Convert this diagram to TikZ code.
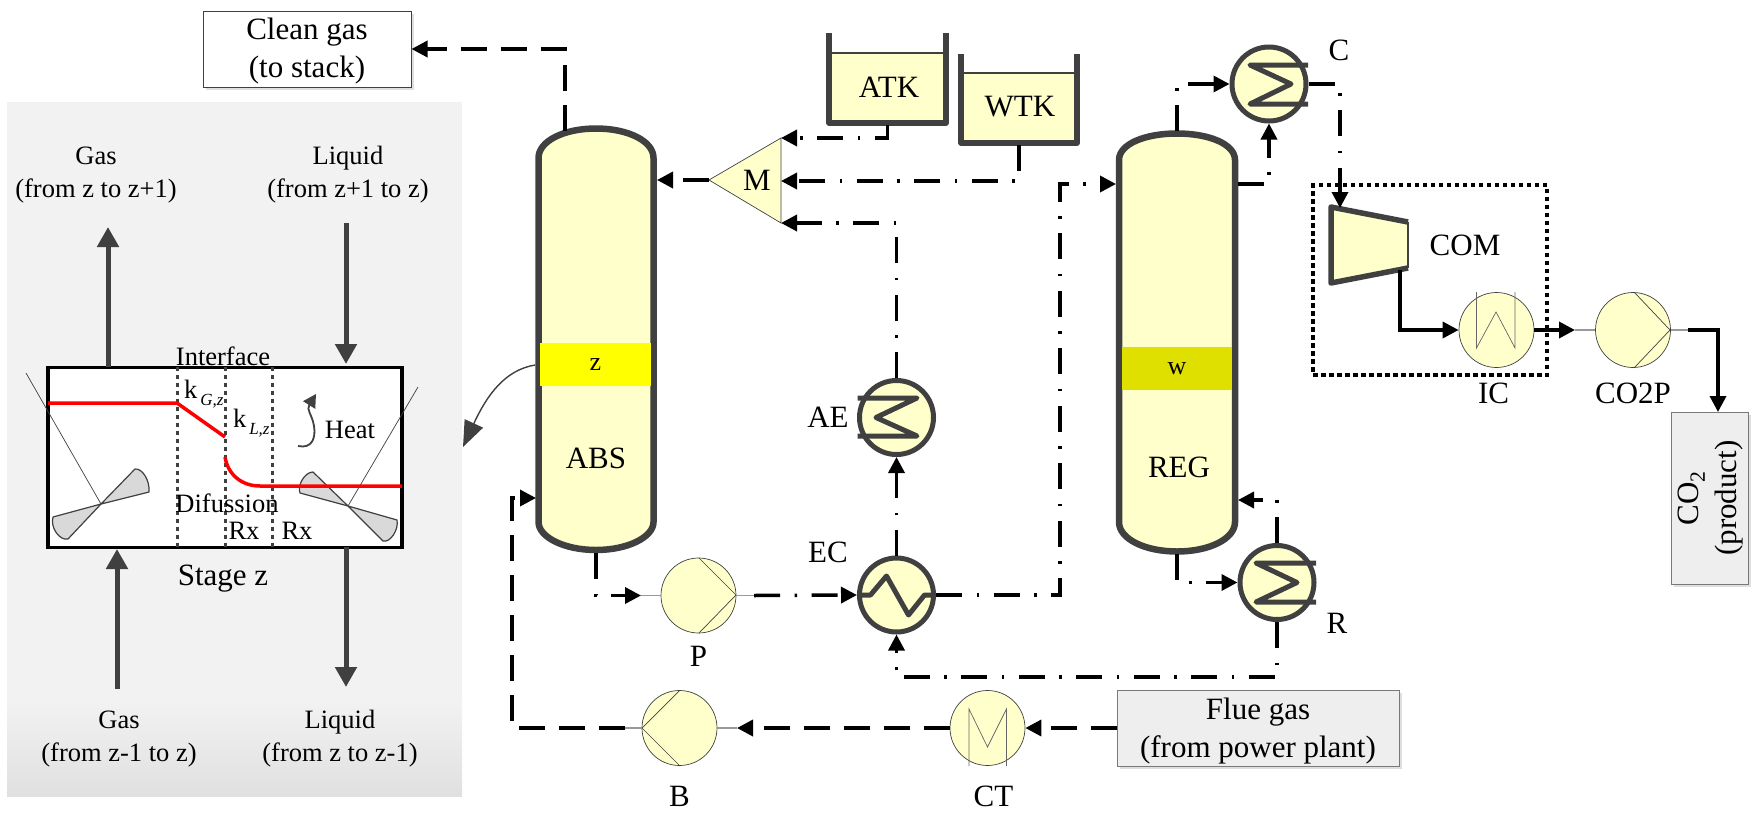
\documentclass[tikz,border=0pt]{standalone}
\usepackage{fontspec}
\setmainfont{Liberation Serif}
\usetikzlibrary{
  arrows.meta,
  positioning,
  calc,
  shadows
}
\definecolor{isPale}{HTML}{FFFFCC}
\definecolor{isDark}{HTML}{404040}
\definecolor{isBoxFill}{HTML}{EEEEEE}
\definecolor{isPanel}{HTML}{F2F2F2}
\definecolor{isPanelEnd}{HTML}{E0E0E0}
\definecolor{isBandZ}{HTML}{FFFF00}
\definecolor{isBandW}{HTML}{E0E000}
\definecolor{isBlade}{HTML}{D9D9D9}
\definecolor{isStub}{HTML}{999999}
\tikzset{
  tag/.style={font=\fontsize{31}{38}\selectfont, inner sep=0pt, align=center},
  paneltag/.style={font=\fontsize{26.5}{33}\selectfont, inner sep=0pt, align=center},
  vessel/.style={draw=isDark, line width=6.5pt, fill=isPale},
  band/.style={inner sep=0pt, minimum width=111pt, minimum height=43pt, font=\fontsize{26}{30}\selectfont},
  hxer/.style={circle, draw=isDark, line width=5pt, fill=isPale, minimum size=74pt, inner sep=0pt},
  pump/.style={circle, draw=isDark, line width=.7pt, fill=isPale, minimum size=75pt, inner sep=0pt},
  coil/.style={draw=isDark, line width=5pt, line join=round},
  thinline/.style={draw=isDark, line width=.7pt},
  stub/.style={draw=isStub, line width=1.5pt},
  tank/.style={draw=isDark, line width=5.5pt, line join=round},
  dashflow/.style={-{Triangle[length=16pt, width=16pt]}, line width=3.5pt, dash pattern=on 26pt off 14pt},
  dotflow/.style={-{Triangle[length=16pt, width=16pt]}, line width=3.5pt, dash pattern=on 26pt off 14.5pt on 2.5pt off 14.5pt},
  solidflow/.style={-{Triangle[length=16pt, width=16pt]}, line width=3.5pt},
  streamarrow/.style={-{Triangle[length=20pt, width=21pt]}, line width=5pt, draw=isDark},
  endbox/.style={draw=isDark!70, line width=1pt, fill=isBoxFill, inner sep=0pt, align=center,
    font=\fontsize{31}{38}\selectfont, drop shadow={shadow xshift=3pt, shadow yshift=-3pt, opacity=.25}},
  interface/.style={draw=isDark, line width=3pt, dash pattern=on 4pt off 4pt},
  redline/.style={draw=red, line width=3.5pt},
  blade/.style={draw=isDark, line width=1.2pt, fill=isBlade, line join=round}
}
\newcommand{\subtag}[1]{\raisebox{-7pt}{\fontsize{17}{17}\selectfont\itshape\,#1}}
\begin{document}
\begin{tikzpicture}[x=1pt, y=-1pt]
  \useasboundingbox (0,0) rectangle (1754,817);

  % stage panel
  \fill[isPanel] (7,102) rectangle (462,700);
  \shade[top color=isPanel, bottom color=isPanelEnd] (7,700) rectangle (462,796);
  \node[draw=black, line width=3.5pt, fill=white, minimum width=354pt, minimum height=180pt, inner sep=0pt] (Stage) at (225,457.5) {};
  \draw[thinline] (26,373) -- (101,504);
  \draw[thinline] (418,387) -- (348,506);
  \draw[blade] (101,504) -- (135,469) .. controls (142,468) and (150,480) .. (149,492) -- cycle;
  \draw[blade] (101,504) -- (68,539) .. controls (60,541) and (50,528) .. (53,517) -- cycle;
  \draw[blade] (348,506) -- (313,472) .. controls (305,472) and (297,485) .. (300,493) -- cycle;
  \draw[blade] (348,506) -- (383,541) .. controls (390,543) and (399,530) .. (397,520) -- cycle;
  \foreach \xpos in {177,225,272} {
    \draw[interface] (\xpos,367) -- (\xpos,547);
  }
  \draw[redline] (48,403) -- (177,403) -- (225,437);
  \draw[redline] (225,457) .. controls (228,475) and (242,486) .. (260,486) -- (402,486);
  \coordinate (HeatA) at (298,446);
  \coordinate (HeatB) at (316,394);
  \draw[-{Triangle[length=13pt, width=14pt]}, line width=1.8pt, draw=isDark] (HeatA) .. controls (312,449) and (316,438) .. (314,426) .. controls (312,414) and (306,410) .. (HeatB);

  \node[paneltag] (GasUp) at (96,175) {Gas\\(from z to z+1)};
  \node[paneltag] (LiqIn) at (348,175) {Liquid\\(from z+1 to z)};
  \node[paneltag] (GasIn) at (119,739) {Gas\\(from z-1 to z)};
  \node[paneltag] (LiqOut) at (340,739) {Liquid\\(from z to z-1)};
  \node[paneltag] (Interface) at (223,356) {Interface};
  \node[paneltag, anchor=base west] (kG) at (184,398) {k\subtag{G,z}};
  \node[paneltag, anchor=base west] (kL) at (233,427) {k\subtag{L,z}};
  \node[paneltag] (Heat) at (350,430) {Heat};
  \node[paneltag] (Difussion) at (227,503) {Difussion};
  \node[paneltag] (RxA) at (244,531) {Rx};
  \node[paneltag] (RxB) at (297,531) {Rx};
  \node[tag] (StageZ) at (223,579) {Stage z};

  \coordinate (GasTop) at (108,367);
  \coordinate (GasTopEnd) at (108,227);
  \coordinate (LiqTop) at (346,223);
  \coordinate (LiqTopEnd) at (346,364);
  \coordinate (GasBot) at (117,689);
  \coordinate (GasBotEnd) at (117,549);
  \coordinate (LiqBot) at (346,547);
  \coordinate (LiqBotEnd) at (346,687);
  \draw[streamarrow] (GasTop) -- (GasTopEnd);
  \draw[streamarrow] (LiqTop) -- (LiqTopEnd);
  \draw[streamarrow] (GasBot) -- (GasBotEnd);
  \draw[streamarrow] (LiqBot) -- (LiqBotEnd);

  % pointer to the stage
  \coordinate (ABSpt) at (535,365);
  \coordinate (Panelpt) at (463,447);
  \draw[-{Triangle[length=26pt, width=20pt]}, line width=1.4pt, draw=isDark] (ABSpt) .. controls (505,370) and (487,395) .. (Panelpt);

  % columns
  \draw[vessel] (538.5,522) -- (538.5,158) .. controls (538.5,141) and (564,128.5) .. (596,128.5) .. controls (628,128.5) and (653.5,141) .. (653.5,158) -- (653.5,522) .. controls (653.5,537) and (628,550) .. (596,550) .. controls (564,550) and (538.5,537) .. (538.5,522) -- cycle;
  \node[band, fill=isBandZ] (BandZ) at (595.5,364.5) {z};
  \node[tag] (ABS) at (596,458) {ABS};
  \draw[vessel] (1119,522) -- (1119,160) .. controls (1119,144) and (1145,133.5) .. (1177,133.5) .. controls (1209,133.5) and (1235,144) .. (1235,160) -- (1235,522) .. controls (1235,539) and (1209,551.5) .. (1177,551.5) .. controls (1145,551.5) and (1119,539) .. (1119,522) -- cycle;
  \node[band, fill=isBandW, minimum width=110pt] (BandW) at (1177,368.5) {w};
  \node[tag] (REG) at (1179,467) {REG};

  % tanks
  \fill[isPale] (829,53) rectangle (946,123);
  \draw[thinline, line width=1.2pt] (829,53) -- (946,53);
  \draw[tank] (829,33) -- (829,123) -- (946,123) -- (946,33);
  \node[tag] (ATK) at (889,87) {ATK};
  \fill[isPale] (961,73) rectangle (1077,143);
  \draw[thinline, line width=1.2pt] (961,73) -- (1077,73);
  \draw[tank] (961,54) -- (961,143) -- (1077,143) -- (1077,54);
  \node[tag] (WTK) at (1020,107) {WTK};

  % mixer
  \coordinate (Mapex) at (709,180);
  \coordinate (Mtop) at (781,138);
  \coordinate (Mmid) at (781,181);
  \coordinate (Mbot) at (781,223);
  \draw[thinline, fill=isPale] (Mapex) -- (Mtop) -- (Mbot) -- cycle;
  \node[tag] (M) at (757,180) {M};

  % exchangers
  \node[hxer] (C) at (1269,84) {};
  \draw[coil, shift={(C.center)}] (39,-19) -- (-19,-19) -- (22,0) -- (-19,20) -- (39,20);
  \node[hxer] (R) at (1277,582.5) {};
  \draw[coil, shift={(R.center)}] (39,-19.5) -- (-21,-19.5) -- (20,0) -- (-21,19.5) -- (39,19.5);
  \node[hxer] (AE) at (896.5,417.5) {};
  \draw[coil, shift={(AE.center)}] (-39,-19.5) -- (20.5,-19.5) -- (-20.5,0) -- (20.5,18.5) -- (-39,18.5);
  \node[hxer] (EC) at (896.5,595) {};
  \draw[coil, shift={(EC.center)}] (-39,0) -- (-26,0) -- (-10,-19) -- (12,20) -- (28,0) -- (39,0);

  % pumps and coolers
  \node[pump] (P) at (698.5,595.5) {};
  \draw[thinline] (699,558) -- (736,595) -- (699,633);
  \node[pump] (B) at (679.5,728) {};
  \draw[thinline] (680,690) -- (642,728) -- (680,766);
  \node[pump] (CT) at (987.5,728) {};
  \draw[thinline, draw=isDark!80] (969,766) -- (969,709) -- (987.5,747) -- (1006.5,709) -- (1006.5,766);
  \node[pump] (IC) at (1496.5,330) {};
  \draw[thinline, draw=isDark!80] (1476.5,292) -- (1476.5,348) -- (1496,312) -- (1515,348) -- (1515,292);
  \node[pump] (CO2P) at (1633,330) {};
  \draw[thinline] (1634,292) -- (1670,330) -- (1634,368);

  % compressor
  \fill[isPale] (1331,207) -- (1408,222) -- (1408,268) -- (1331,283) -- cycle;
  \draw[thinline, line width=1.2pt] (1408,222) -- (1408,268);
  \draw[tank] (1408,222) -- (1331,207) -- (1331,283) -- (1408,268);
  \node[tag] (COM) at (1465,245) {COM};
  \node[draw=black, line width=3.5pt, dash pattern=on 4.5pt off 3.5pt, minimum width=234pt, minimum height=190pt, inner sep=0pt] (Train) at (1430,280) {};

  % labels
  \node[tag] (ClabelT) at (1339,50) {C};
  \node[tag] (RlabelT) at (1337,623) {R};
  \node[tag] (AElabel) at (828,417) {AE};
  \node[tag] (EClabel) at (828,552) {EC};
  \node[tag, below=13pt of P] (Plabel) {P};
  \node[tag, below=20pt of B] (Blabel) {B};
  \node[tag, below=20pt of CT, xshift=6pt] (CTlabel) {CT};
  \node[tag, below=15pt of IC, xshift=-3pt] (IClabel) {IC};
  \node[tag, below=15pt of CO2P] (CO2Plabel) {CO2P};

  % end boxes
  \node[endbox, fill=white, draw=isDark, minimum width=208pt, minimum height=76pt] (Clean) at (307,49) {};
  \node[tag] (CleanText) at (307,51) {Clean gas\\(to stack)};
  \node[endbox, minimum width=282pt, minimum height=76pt] (Flue) at (1258,728) {};
  \node[tag] (FlueText) at (1258,731) {Flue gas\\(from power plant)};
  \node[endbox, minimum width=77pt, minimum height=172pt] (CO2box) at (1709.5,498) {};
  \node[tag, rotate=90] (CO2text) at (1711,498) {CO\textsubscript{2}\\(product)};

  % ports
  \coordinate (ABStop) at (565,131);
  \coordinate (ABSfeed) at (657,180);
  \coordinate (ABSbot) at (596,553);
  \coordinate (ABSgas) at (536,498);
  \coordinate (Bcorner) at (512,498);
  \coordinate (REGtop) at (1177,131);
  \coordinate (REGfeed) at (1116,184);
  \coordinate (REGout) at (1238,184);
  \coordinate (REGret) at (1238,500);
  \coordinate (REGbot) at (1177,554);
  \coordinate (ECcorner) at (1060,184);
  \coordinate (ATKout) at (887.5,125);
  \coordinate (WTKout) at (1019,145);
  \coordinate (Bus) at (896.5,677);
  \coordinate (COMin) at (1340,208);
  \coordinate (COMout) at (1400,270);
  \coordinate (CO2in) at (1718,412);
  \coordinate (Pin) at (641,595.5);
  \coordinate (Pout) at (754,595.5);
  \coordinate (Bin) at (737,728);
  \coordinate (Bout) at (625,728);
  \coordinate (CO2Pin) at (1575,330);
  \coordinate (CO2Pout) at (1688,330);

  % stubs
  \draw[stub] (Pin) -- (P.west);
  \draw[stub] (P.east) -- (Pout);
  \draw[stub] (Bin) -- (B.east);
  \draw[stub] (B.west) -- (Bout);
  \draw[stub] (CO2Pin) -- (CO2P.west);
  \draw[stub] (CO2P.east) -- (CO2Pout);

  % flows
  \draw[dashflow] (ABStop) |- (Clean.east);
  \draw[dashflow] (Mapex) -- (ABSfeed);
  \draw[dotflow] (ATKout) |- (Mtop);
  \draw[dotflow] (WTKout) |- (Mmid);
  \draw[dotflow] (AE.north) |- (Mbot);
  \draw[dotflow] (EC.north) -- (AE.south);
  \draw[dotflow] (ABSbot) |- (Pin);
  \draw[dotflow] (Pout) -- (EC.west);
  \draw[dotflow] (EC.east) -| (ECcorner) -- (REGfeed);
  \draw[dotflow] (REGtop) |- (C.west);
  \draw[dotflow] (REGout) -| (C.south);
  \draw[dotflow] (C.east) -| (COMin);
  \draw[dotflow] (REGbot) |- (R.west);
  \draw[dotflow] (R.north) |- (REGret);
  \draw[dotflow] (R.south) |- (Bus) -- (EC.south);
  \draw[dashflow] (Flue.west) -- (CT.east);
  \draw[dashflow] (CT.west) -- (Bin);
  \draw[dashflow] (Bout) -| (Bcorner) -- (ABSgas);
  \draw[solidflow] (COMout) |- (IC.west);
  \draw[solidflow] (IC.east) -- (CO2Pin);
  \draw[solidflow] (CO2Pout) -| (CO2in);
\end{tikzpicture}
\end{document}
